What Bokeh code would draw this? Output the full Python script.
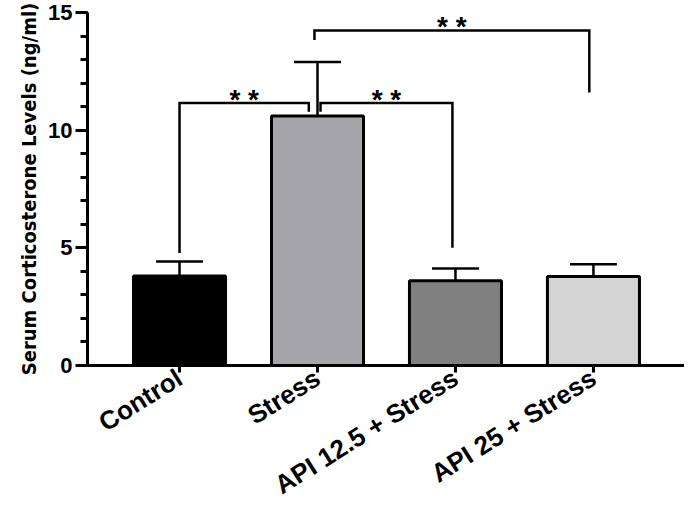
import math
from bokeh.plotting import figure
from bokeh.models import Range1d, FixedTicker, SingleIntervalTicker, ColumnDataSource
from bokeh.core.properties import value
from bokeh.embed import file_html
from bokeh.resources import INLINE

# ---- data ----
groups = ["Control", "Stress", "API 12.5 + Stress", "API 25 + Stress"]
means = [3.8, 10.6, 3.6, 3.78]
errors = [0.62, 2.3, 0.52, 0.52]
fills = ["#000000", "#A6A5AA", "#808080", "#D4D4D4"]

# significance brackets: group indices, bar-top height, leg ends, label
cmp_left = [0, 1, 1]
cmp_right = [1, 2, 3]
cmp_height = [11.15, 11.15, 14.23]
cmp_left_end = [4.78, 10.78, 13.83]
cmp_right_end = [10.78, 5.0, 11.6]
cmp_label = ["* *", "* *", "* *"]

FONT = "Liberation Sans"
TITLE_FONT = "'DejaVu Sans Condensed', 'Roboto', sans-serif"
xs = list(range(len(groups)))

p = figure(width=684, height=515, output_backend="svg", toolbar_location=None,
           x_range=Range1d(-0.667, 3.66), y_range=Range1d(0, 15),
           min_border_left=87, min_border_right=0, min_border_top=12, min_border_bottom=145)
p.outline_line_color = None
p.xgrid.visible = False
p.ygrid.visible = False
p.background_fill_color = "white"
p.border_fill_color = "white"

src = ColumnDataSource(dict(x=xs, top=means, color=fills,
                            hi=[m + e for m, e in zip(means, errors)]))
p.vbar(x="x", top="top", bottom=0, width=0.667, fill_color="color",
       line_color="black", line_width=3, source=src)

# error bars (upper only)
p.segment(x0="x", y0="top", x1="x", y1="hi", line_color="black", line_width=2.5, source=src)
cap = 0.17
p.segment(x0=[x - cap for x in xs], y0=src.data["hi"], x1=[x + cap for x in xs],
          y1=src.data["hi"], line_color="black", line_width=2.5)

# brackets
lx_off = [0.0, 0.022, -0.022]
rx_off = [-0.063, -0.022, -0.03]
bx, by = [], []
for i in range(len(cmp_left)):
    x0 = cmp_left[i] + lx_off[i]
    x1 = cmp_right[i] + rx_off[i]
    bx.append([x0, x0, x1, x1])
    by.append([cmp_left_end[i], cmp_height[i], cmp_height[i], cmp_right_end[i]])
p.multi_line(xs=bx, ys=by, line_color="black", line_width=2.5, line_join="miter")
tx = [(b[0] + b[3]) / 2 for b in bx]
p.text(x=tx, y=cmp_height, text=cmp_label, text_align="center", text_baseline="alphabetic",
       y_offset=-4, text_font=value(FONT), text_font_style="bold", text_font_size="28px",
       text_color="black")

# y axis
ya = p.yaxis[0]
ya.ticker = SingleIntervalTicker(interval=5, num_minor_ticks=5)
ya.axis_line_width = 3
ya.major_tick_line_width = 3
ya.minor_tick_line_width = 3
ya.major_tick_in = 0
ya.major_tick_out = 12
ya.minor_tick_in = 0
ya.minor_tick_out = 7
ya.major_label_text_font = FONT
ya.major_label_text_font_style = "bold"
ya.major_label_text_font_size = "22px"
ya.major_label_text_color = "black"
ya.major_label_standoff = 3
ya.axis_label = "Serum Corticosterone Levels (ng/ml)"
ya.axis_label_text_font = TITLE_FONT
ya.axis_label_text_font_style = "bold"
ya.axis_label_text_font_size = "20px"
ya.axis_label_text_color = "black"
ya.axis_label_standoff = 4

# x axis
xa = p.xaxis[0]
xa.ticker = FixedTicker(ticks=xs, minor_ticks=[])
xa.major_label_overrides = {i: g for i, g in zip(xs, groups)}
xa.axis_line_width = 3
xa.major_tick_line_width = 3
xa.major_tick_in = 0
xa.major_tick_out = 7
xa.major_label_orientation = 0.56
xa.major_label_text_font = FONT
xa.major_label_text_font_style = "bold"
xa.major_label_text_font_size = "26px"
xa.major_label_text_color = "black"
xa.major_label_standoff = 3

open("out.html", "w").write(file_html(p, INLINE))
